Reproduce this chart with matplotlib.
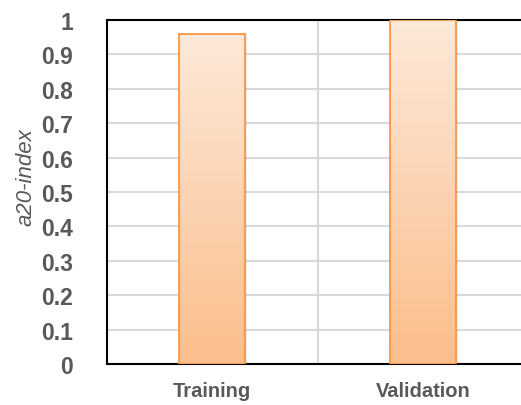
import numpy as np
import matplotlib
matplotlib.use("Agg")
import matplotlib.pyplot as plt
from matplotlib.colors import LinearSegmentedColormap

categories = ["Training", "Validation"]
values = [0.96, 1.0]
yticks = [0, 0.1, 0.2, 0.3, 0.4, 0.5, 0.6, 0.7, 0.8, 0.9, 1]
ytick_labels = ["0", "0.1", "0.2", "0.3", "0.4", "0.5", "0.6", "0.7", "0.8", "0.9", "1"]

plt.rcParams['font.family'] = ['Liberation Sans', 'DejaVu Sans']

fig = plt.figure(figsize=(5.21, 4.06), dpi=100)
ax = fig.add_axes([106.5/521, 1-365/406, 422/521, 344/406])

x = np.arange(len(categories))
bars = ax.bar(x, values, width=0.31, color='none', edgecolor='#F79646', linewidth=1.3, zorder=4)

cmap = LinearSegmentedColormap.from_list('g', ['#FBBE8C', '#FDE9D9'])
grad = np.linspace(0, 1, 256).reshape(-1, 1)
for b in bars:
    x0, y0 = b.get_x(), b.get_y()
    w, h = b.get_width(), b.get_height()
    ax.bar(x0 + w/2 + 0.006, h, width=w + 0.012, bottom=0, color='#000000', alpha=0.07, zorder=2, linewidth=0)
    ax.imshow(grad, extent=[x0, x0 + w, y0, y0 + h], origin='lower', cmap=cmap,
              aspect='auto', zorder=3, interpolation='bilinear')

ax.set_xlim(-0.5, 1.5)
ax.set_ylim(0, 1)
ax.set_yticks(yticks)
ax.set_yticklabels(ytick_labels, fontsize=16.5, fontweight='bold', color='#595959')
ax.set_xticks(x)
ax.set_xticklabels(categories, fontsize=14.5, fontweight='bold', color='#595959')
ax.set_xticks([0.5], minor=True)
ax.tick_params(axis='both', which='both', length=0)
ax.tick_params(axis='y', pad=24)
ax.tick_params(axis='x', pad=12)

ax.grid(True, axis='y', color='#D9D9D9', linewidth=1.5, zorder=0)
ax.grid(True, axis='x', which='minor', color='#D9D9D9', linewidth=1.5, zorder=0)
ax.set_axisbelow(True)

for s in ['left', 'top', 'bottom']:
    ax.spines[s].set_color('black')
    ax.spines[s].set_linewidth(1.5)
ax.spines['right'].set_visible(False)

ax.set_ylabel('a20-index', fontsize=16, fontstyle='italic', color='#595959')
ax.yaxis.set_label_coords(-0.165, 0.547)

fig.savefig('out.png', dpi=100)
